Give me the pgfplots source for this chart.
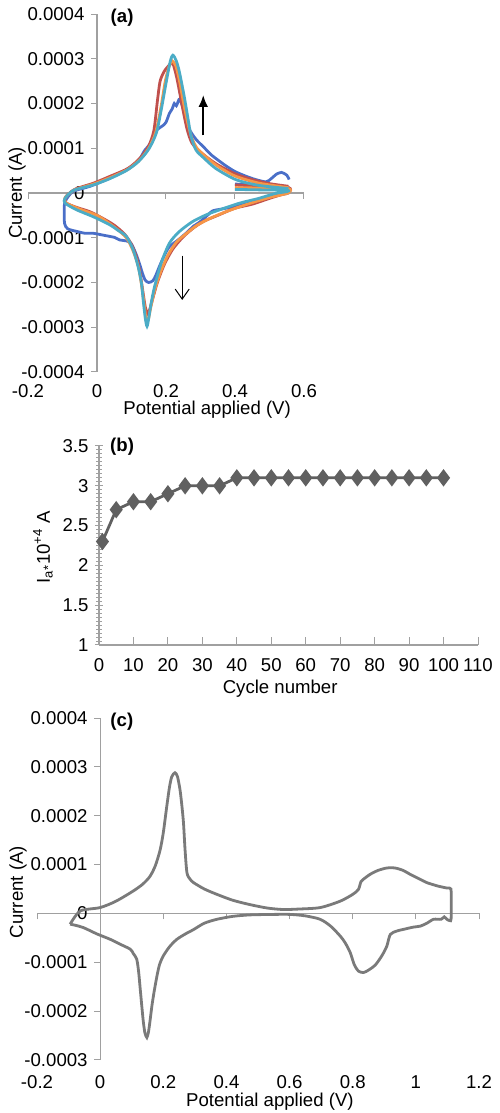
\documentclass[border=0pt]{standalone}
\usepackage{fontspec}
\setmainfont{Liberation Sans}
\usepackage{pgfplots}
\pgfplotsset{compat=1.18}
\usetikzlibrary{arrows.meta}
\definecolor{axgray}{HTML}{A0A0A0}
\definecolor{cblue}{HTML}{4A6FC8}
\definecolor{cred}{HTML}{C0504D}
\definecolor{corange}{HTML}{F79646}
\definecolor{ccyan}{HTML}{4BACC6}
\definecolor{cgray}{HTML}{7A7A7A}
\definecolor{bgray}{HTML}{606060}
\pgfplotsset{
  cvbase/.style={scale only axis, anchor=south west,
    /pgf/number format/assume math mode=true,
    scaled x ticks=false, scaled y ticks=false,
    tick style={axgray, line width=0.5pt}, major tick length=3pt,
    hide obscured x ticks=false, hide obscured y ticks=false, clip=false},
  cvline/.style={line width=1.4pt, no markers, smooth, tension=0.45},
}
\begin{document}
\fontsize{9.3}{11}\selectfont
\begin{tikzpicture}
\useasboundingbox (0,0) rectangle (249.5pt,556.5pt);
% ---------------- (a) zero line
\begin{axis}[cvbase, at={(14pt,370.5pt)}, width=138pt, height=179pt,
  xmin=-0.2, xmax=0.6, ymin=-4e-4, ymax=4e-4,
  axis x line=middle, axis y line=none,
  x axis line style={-, axgray, line width=0.6pt},
  xtick={-0.2,0,0.2,0.4,0.6}, xticklabels={}, ytick=\empty, xtick align=outside]
\end{axis}
% ---------------- (a) main
\begin{axis}[cvbase, at={(14pt,370.5pt)}, width=138pt, height=179pt,
  xmin=-0.2, xmax=0.6, ymin=-4e-4, ymax=4e-4,
  axis x line=bottom, axis y line=middle,
  x axis line style={draw=none}, y axis line style={-, axgray, line width=0.6pt},
  xtick={-0.2,0,0.2,0.4,0.6}, xticklabels={-0.2,0,0.2,0.4,0.6}, xtick style={draw=none},
  ytick={-4e-4,-3e-4,-2e-4,-1e-4,0,1e-4,2e-4,3e-4,4e-4},
  yticklabels={-0.0004,-0.0003,-0.0002,-0.0001,0,0.0001,0.0002,0.0003,0.0004},
  ytick align=outside,
  xticklabel style={anchor=center, yshift=-8pt},
  xlabel={Potential applied (V)}, ylabel={Current (A)},
  every axis x label/.style={at={(rel axis cs:0.649,-0.106)}, anchor=center},
  every axis y label/.style={at={(rel axis cs:-0.04,0.5)}, anchor=center, rotate=90}]
\addplot[cvline, cblue] coordinates {
(0.40,0.2e-4) (0.48,0.17e-4) (0.555,0.12e-4)
(0.555,0.0) (0.52,-0.05e-4) (0.469,-0.14e-4) (0.43,-0.22e-4) (0.392,-0.31e-4) (0.36,-0.36e-4)
(0.335,-0.40e-4) (0.32,-0.5e-4) (0.296,-0.66e-4) (0.28,-0.74e-4) (0.258,-0.9e-4) (0.235,-1.05e-4)
(0.21,-1.2e-4) (0.195,-1.4e-4) (0.181,-1.64e-4) (0.17,-1.85e-4) (0.162,-1.96e-4) (0.15,-2.0e-4)
(0.14,-1.95e-4) (0.132,-1.8e-4) (0.124,-1.6e-4) (0.115,-1.4e-4) (0.107,-1.25e-4) (0.098,-1.12e-4)
(0.085,-1.07e-4) (0.066,-1.05e-4) (0.05,-0.99e-4) (0.037,-0.97e-4) (0.01,-0.93e-4) (-0.011,-0.9e-4)
(-0.035,-0.9e-4) (-0.058,-0.86e-4) (-0.085,-0.8e-4) (-0.094,-0.68e-4) (-0.095,-0.4e-4) (-0.093,-0.2e-4)
(-0.07,0.03e-4) (-0.02,0.15e-4) (0.037,0.33e-4) (0.085,0.52e-4) (0.12,0.72e-4) (0.138,0.95e-4)
(0.152,1.08e-4) (0.165,1.3e-4) (0.175,1.42e-4) (0.19,1.5e-4) (0.2,1.58e-4) (0.21,1.78e-4)
(0.218,1.88e-4) (0.224,2.0e-4) (0.23,1.95e-4) (0.236,2.06e-4) (0.24,2.1e-4) (0.248,1.93e-4)
(0.258,1.7e-4) (0.268,1.42e-4) (0.287,1.2e-4) (0.31,1.02e-4) (0.33,0.86e-4) (0.35,0.74e-4)
(0.375,0.6e-4) (0.4,0.48e-4) (0.43,0.38e-4) (0.46,0.3e-4) (0.49,0.25e-4) (0.505,0.32e-4)
(0.52,0.42e-4) (0.535,0.46e-4) (0.55,0.4e-4) (0.557,0.3e-4)};
\addplot[cvline, cred] coordinates {
(0.40,0.18e-4) (0.48,0.15e-4) (0.555,0.12e-4)
(0.555,0.02e-4) (0.5,-0.12e-4) (0.45,-0.25e-4) (0.4,-0.34e-4) (0.35,-0.5e-4) (0.31,-0.63e-4)
(0.28,-0.78e-4) (0.25,-0.98e-4) (0.22,-1.25e-4) (0.195,-1.6e-4) (0.175,-2.0e-4) (0.162,-2.35e-4)
(0.153,-2.6e-4) (0.147,-2.7e-4) (0.14,-2.55e-4) (0.133,-2.2e-4) (0.125,-1.8e-4) (0.115,-1.45e-4)
(0.1,-1.15e-4) (0.08,-0.92e-4) (0.05,-0.72e-4) (0.02,-0.58e-4) (-0.02,-0.42e-4) (-0.06,-0.32e-4)
(-0.09,-0.22e-4) (-0.092,-0.1e-4) (-0.065,0.08e-4) (-0.01,0.22e-4) (0.04,0.38e-4) (0.09,0.55e-4)
(0.125,0.78e-4) (0.15,1.05e-4) (0.165,1.4e-4) (0.175,2.05e-4) (0.183,2.5e-4) (0.195,2.72e-4)
(0.205,2.82e-4) (0.215,2.9e-4) (0.222,2.85e-4) (0.232,2.55e-4) (0.242,2.15e-4) (0.252,1.75e-4)
(0.262,1.4e-4) (0.275,1.12e-4) (0.295,0.95e-4) (0.32,0.79e-4) (0.35,0.63e-4) (0.4,0.43e-4)
(0.45,0.3e-4) (0.5,0.21e-4) (0.555,0.15e-4)};
\addplot[cvline, corange] coordinates {
(0.40,0.12e-4) (0.48,0.11e-4) (0.555,0.1e-4)
(0.555,0.0) (0.5,-0.1e-4) (0.44,-0.24e-4) (0.38,-0.4e-4) (0.33,-0.56e-4) (0.29,-0.72e-4)
(0.26,-0.9e-4) (0.23,-1.1e-4) (0.205,-1.4e-4) (0.185,-1.75e-4) (0.168,-2.15e-4) (0.156,-2.55e-4)
(0.149,-2.82e-4) (0.143,-2.85e-4) (0.137,-2.5e-4) (0.129,-2.05e-4) (0.12,-1.65e-4) (0.105,-1.3e-4)
(0.085,-1.0e-4) (0.05,-0.76e-4) (0.0,-0.5e-4) (-0.05,-0.36e-4) (-0.09,-0.22e-4)
(-0.092,-0.1e-4) (-0.065,0.07e-4) (-0.01,0.2e-4) (0.04,0.35e-4) (0.09,0.53e-4) (0.125,0.75e-4)
(0.15,1.0e-4) (0.17,1.35e-4) (0.185,1.9e-4) (0.198,2.5e-4) (0.21,2.85e-4) (0.218,2.95e-4)
(0.228,2.85e-4) (0.238,2.55e-4) (0.25,2.05e-4) (0.262,1.6e-4) (0.274,1.25e-4) (0.29,1.0e-4)
(0.32,0.78e-4) (0.35,0.6e-4) (0.4,0.38e-4) (0.47,0.22e-4) (0.555,0.12e-4)};
\addplot[cvline, ccyan] coordinates {
(0.40,0.08e-4) (0.47,0.07e-4) (0.55,0.06e-4)
(0.55,0.03e-4) (0.517,-0.01e-4) (0.469,-0.12e-4) (0.412,-0.23e-4) (0.354,-0.38e-4) (0.316,-0.49e-4)
(0.277,-0.64e-4) (0.239,-0.86e-4) (0.21,-1.12e-4) (0.186,-1.57e-4) (0.167,-2.09e-4) (0.157,-2.46e-4)
(0.150,-2.8e-4) (0.145,-2.98e-4) (0.140,-2.8e-4) (0.134,-2.4e-4) (0.1286,-2.0e-4) (0.119,-1.64e-4)
(0.105,-1.27e-4) (0.085,-0.97e-4) (0.06,-0.83e-4) (0.037,-0.71e-4) (-0.011,-0.53e-4) (-0.058,-0.38e-4)
(-0.092,-0.23e-4) (-0.093,-0.12e-4) (-0.068,0.06e-4) (-0.011,0.18e-4) (0.037,0.32e-4) (0.085,0.5e-4)
(0.12,0.7e-4) (0.15,0.98e-4) (0.172,1.34e-4) (0.186,1.85e-4) (0.2,2.45e-4) (0.212,2.93e-4)
(0.22,3.08e-4) (0.23,2.95e-4) (0.239,2.7e-4) (0.253,2.15e-4) (0.263,1.7e-4) (0.273,1.26e-4)
(0.287,0.96e-4) (0.31,0.78e-4) (0.344,0.55e-4) (0.402,0.3e-4) (0.469,0.17e-4) (0.555,0.1e-4)};
\draw[-{Latex[length=6pt,width=5pt]}, line width=1.2pt, black] (axis cs:0.308,1.29e-4) -- (axis cs:0.308,2.19e-4);
\draw[-{Straight Barb[length=5pt,width=7pt]}, line width=0.5pt, black] (axis cs:0.247,-1.4e-4) -- (axis cs:0.247,-2.39e-4);
\node[font=\bfseries] at (rel axis cs:0.341,0.99) {(a)};
\end{axis}
% ---------------- (b)
\begin{axis}[scale only axis, anchor=south west, at={(49.5pt,234pt)}, width=189.5pt, height=99.5pt,
  xmin=0, xmax=110, ymin=1, ymax=3.5,
  axis x line=bottom, axis y line=left, axis line style={-, axgray, line width=0.6pt},
  tick style={axgray, line width=0.5pt},
  xtick={0,10,20,30,40,50,60,70,80,90,100,110}, ytick={1,1.5,2,2.5,3,3.5}, minor y tick num=9,
  xtick align=inside, ytick align=center, major tick length=4pt, minor tick length=2.5pt,
  /pgf/number format/assume math mode=true, clip=false,
  xticklabel style={anchor=center, yshift=-10pt},
  xlabel={Cycle number}, ylabel={I\textsubscript{a*}10\textsuperscript{+4} A},
  every axis x label/.style={at={(rel axis cs:0.478,-0.221)}, anchor=center},
  every axis y label/.style={at={(rel axis cs:-0.148,0.492)}, anchor=center, rotate=90}]
\addplot[bgray, line width=1.4pt, mark=diamond*, mark size=3.2pt, mark options={fill=bgray, draw=bgray}] coordinates {
(1,2.3) (5,2.7) (10,2.8) (15,2.8) (20,2.9) (25,3.0) (30,3.0) (35,3.0) (40,3.1) (45,3.1) (50,3.1)
(55,3.1) (60,3.1) (65,3.1) (70,3.1) (75,3.1) (80,3.1) (85,3.1) (90,3.1) (95,3.1) (100,3.1)};
\node[font=\bfseries] at (rel axis cs:0.061,0.995) {(b)};
\end{axis}
% ---------------- (c) zero line
\begin{axis}[cvbase, at={(18.5pt,26.5pt)}, width=221pt, height=171pt,
  xmin=-0.2, xmax=1.2, ymin=-3e-4, ymax=4e-4,
  axis x line=middle, axis y line=none,
  x axis line style={-, axgray, line width=0.6pt},
  xtick={-0.2,0,0.2,0.4,0.6,0.8,1,1.2}, xticklabels={}, ytick=\empty, xtick align=outside]
\end{axis}
% ---------------- (c) main
\begin{axis}[cvbase, at={(18.5pt,26.5pt)}, width=221pt, height=171pt,
  xmin=-0.2, xmax=1.2, ymin=-3e-4, ymax=4e-4,
  axis x line=bottom, axis y line=middle,
  x axis line style={draw=none}, y axis line style={-, axgray, line width=0.6pt},
  xtick={-0.2,0,0.2,0.4,0.6,0.8,1,1.2}, xticklabels={-0.2,0,0.2,0.4,0.6,0.8,1,1.2}, xtick style={draw=none},
  ytick={-3e-4,-2e-4,-1e-4,0,1e-4,2e-4,3e-4,4e-4},
  yticklabels={-0.0003,-0.0002,-0.0001,0,0.0001,0.0002,0.0003,0.0004},
  ytick align=outside,
  xticklabel style={anchor=center, yshift=-9.5pt},
  xlabel={Potential applied (V)}, ylabel={Current (A)},
  every axis x label/.style={at={(rel axis cs:0.527,-0.123)}, anchor=center},
  every axis y label/.style={at={(rel axis cs:-0.043,0.491)}, anchor=center, rotate=90}]
\addplot[cvline, cgray] coordinates {
(-0.095,-0.22e-4) (-0.063,0.05e-4) (0,0.12e-4) (0.05,0.25e-4) (0.105,0.46e-4) (0.135,0.6e-4)
(0.158,0.76e-4) (0.175,0.98e-4) (0.19,1.3e-4) (0.2,1.65e-4) (0.211,2.19e-4) (0.22,2.6e-4)
(0.227,2.8e-4) (0.237,2.88e-4) (0.245,2.8e-4) (0.253,2.53e-4) (0.259,2.2e-4) (0.264,1.85e-4)
(0.269,1.3e-4) (0.275,0.83e-4) (0.285,0.7e-4) (0.296,0.63e-4) (0.33,0.5e-4) (0.37,0.39e-4)
(0.42,0.27e-4) (0.475,0.18e-4) (0.53,0.11e-4) (0.58,0.08e-4) (0.63,0.09e-4) (0.697,0.12e-4)
(0.76,0.25e-4) (0.8,0.39e-4) (0.818,0.49e-4) (0.826,0.65e-4) (0.834,0.7e-4) (0.855,0.8e-4)
(0.88,0.88e-4) (0.908,0.93e-4) (0.934,0.93e-4) (0.96,0.88e-4) (0.982,0.8e-4) (1.01,0.71e-4)
(1.035,0.63e-4) (1.07,0.56e-4) (1.098,0.52e-4) (1.111,0.5e-4) (1.112,0.2e-4) (1.112,-0.05e-4)
(1.11,-0.15e-4) (1.098,-0.12e-4) (1.09,-0.07e-4) (1.08,-0.12e-4) (1.056,-0.12e-4) (1.035,-0.2e-4)
(1.014,-0.26e-4) (0.992,-0.28e-4) (0.965,-0.32e-4) (0.94,-0.36e-4) (0.919,-0.43e-4) (0.908,-0.67e-4)
(0.892,-0.87e-4) (0.871,-1.06e-4) (0.85,-1.16e-4) (0.834,-1.21e-4) (0.818,-1.18e-4) (0.805,-1.05e-4)
(0.792,-0.8e-4) (0.776,-0.6e-4) (0.76,-0.46e-4) (0.73,-0.26e-4) (0.697,-0.12e-4) (0.65,-0.05e-4)
(0.602,-0.02e-4) (0.55,-0.02e-4) (0.475,-0.03e-4) (0.42,-0.06e-4) (0.37,-0.12e-4) (0.33,-0.2e-4)
(0.296,-0.33e-4) (0.27,-0.42e-4) (0.243,-0.53e-4) (0.22,-0.68e-4) (0.2,-0.87e-4) (0.188,-1.05e-4)
(0.18,-1.28e-4) (0.171,-1.6e-4) (0.164,-1.89e-4) (0.158,-2.2e-4) (0.153,-2.43e-4) (0.148,-2.54e-4)
(0.142,-2.45e-4) (0.137,-2.23e-4) (0.132,-1.9e-4) (0.127,-1.55e-4) (0.122,-1.2e-4) (0.116,-0.94e-4)
(0.105,-0.82e-4) (0.095,-0.73e-4) (0.06,-0.62e-4) (0.032,-0.53e-4) (-0.01,-0.42e-4) (-0.053,-0.29e-4)
(-0.08,-0.24e-4) (-0.095,-0.22e-4)};
\node[font=\bfseries] at (rel axis cs:0.192,0.988) {(c)};
\end{axis}
\end{tikzpicture}
\end{document}
